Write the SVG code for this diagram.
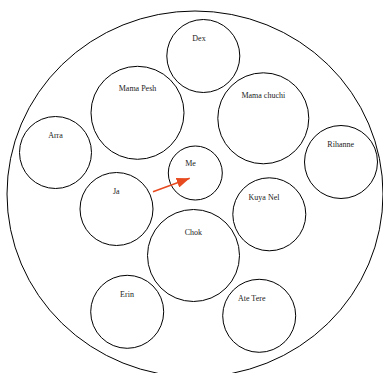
<svg xmlns="http://www.w3.org/2000/svg" width="383" height="373" viewBox="0 0 383 373">
<style>
.c{fill:none;stroke:#000;stroke-width:1}
.t{font-family:"Liberation Serif","Times New Roman",serif;font-size:8px;fill:#222;text-anchor:middle}
</style>
<defs>
<marker id="ah" markerUnits="userSpaceOnUse" markerWidth="14" markerHeight="10" refX="13" refY="5" orient="auto">
<path d="M0,0 L13,5 L0,10 Z" fill="#e84a1f"/>
</marker>
</defs>
<rect width="383" height="373" fill="#fff"/>
<g id="family"><ellipse class="c" cx="195" cy="194" rx="188" ry="183"/></g>
<g id="dex"><circle class="c" cx="203.3" cy="56" r="36.5"/><text class="t" x="199" y="41">Dex</text></g>
<g id="mama-pesh"><circle class="c" cx="137.5" cy="112.8" r="46.5"/><text class="t" x="137.5" y="91">Mama Pesh</text></g>
<g id="mama-chuchi"><circle class="c" cx="263.3" cy="118.3" r="45.5"/><text class="t" x="263.3" y="98">Mama chuchi</text></g>
<g id="arra"><circle class="c" cx="55.5" cy="152.5" r="36"/><text class="t" x="55.5" y="138">Arra</text></g>
<g id="rihanne"><circle class="c" cx="341" cy="162" r="36.5"/><text class="t" x="340.7" y="147">Rihanne</text></g>
<g id="me"><circle class="c" cx="195.3" cy="173" r="27"/><text class="t" x="190.5" y="165.5">Me</text></g>
<g id="ja"><circle class="c" cx="116.5" cy="209" r="36.5"/><text class="t" x="116.3" y="194">Ja</text></g>
<g id="kuya-nel"><circle class="c" cx="269.3" cy="214.3" r="36.5"/><text class="t" x="264" y="200">Kuya Nel</text></g>
<g id="chok"><circle class="c" cx="193.5" cy="255.5" r="46"/><text class="t" x="193.3" y="235">Chok</text></g>
<g id="erin"><circle class="c" cx="127.2" cy="311.8" r="36.5"/><text class="t" x="127" y="297">Erin</text></g>
<g id="ate-tere"><circle class="c" cx="259.2" cy="315.8" r="36.5"/><text class="t" x="251.7" y="301">Ate Tere</text></g>
<g id="connectors">
<line x1="153" y1="191.7" x2="189.7" y2="178.3" stroke="#e84a1f" stroke-width="1.5" marker-end="url(#ah)"/>
</g>
</svg>
